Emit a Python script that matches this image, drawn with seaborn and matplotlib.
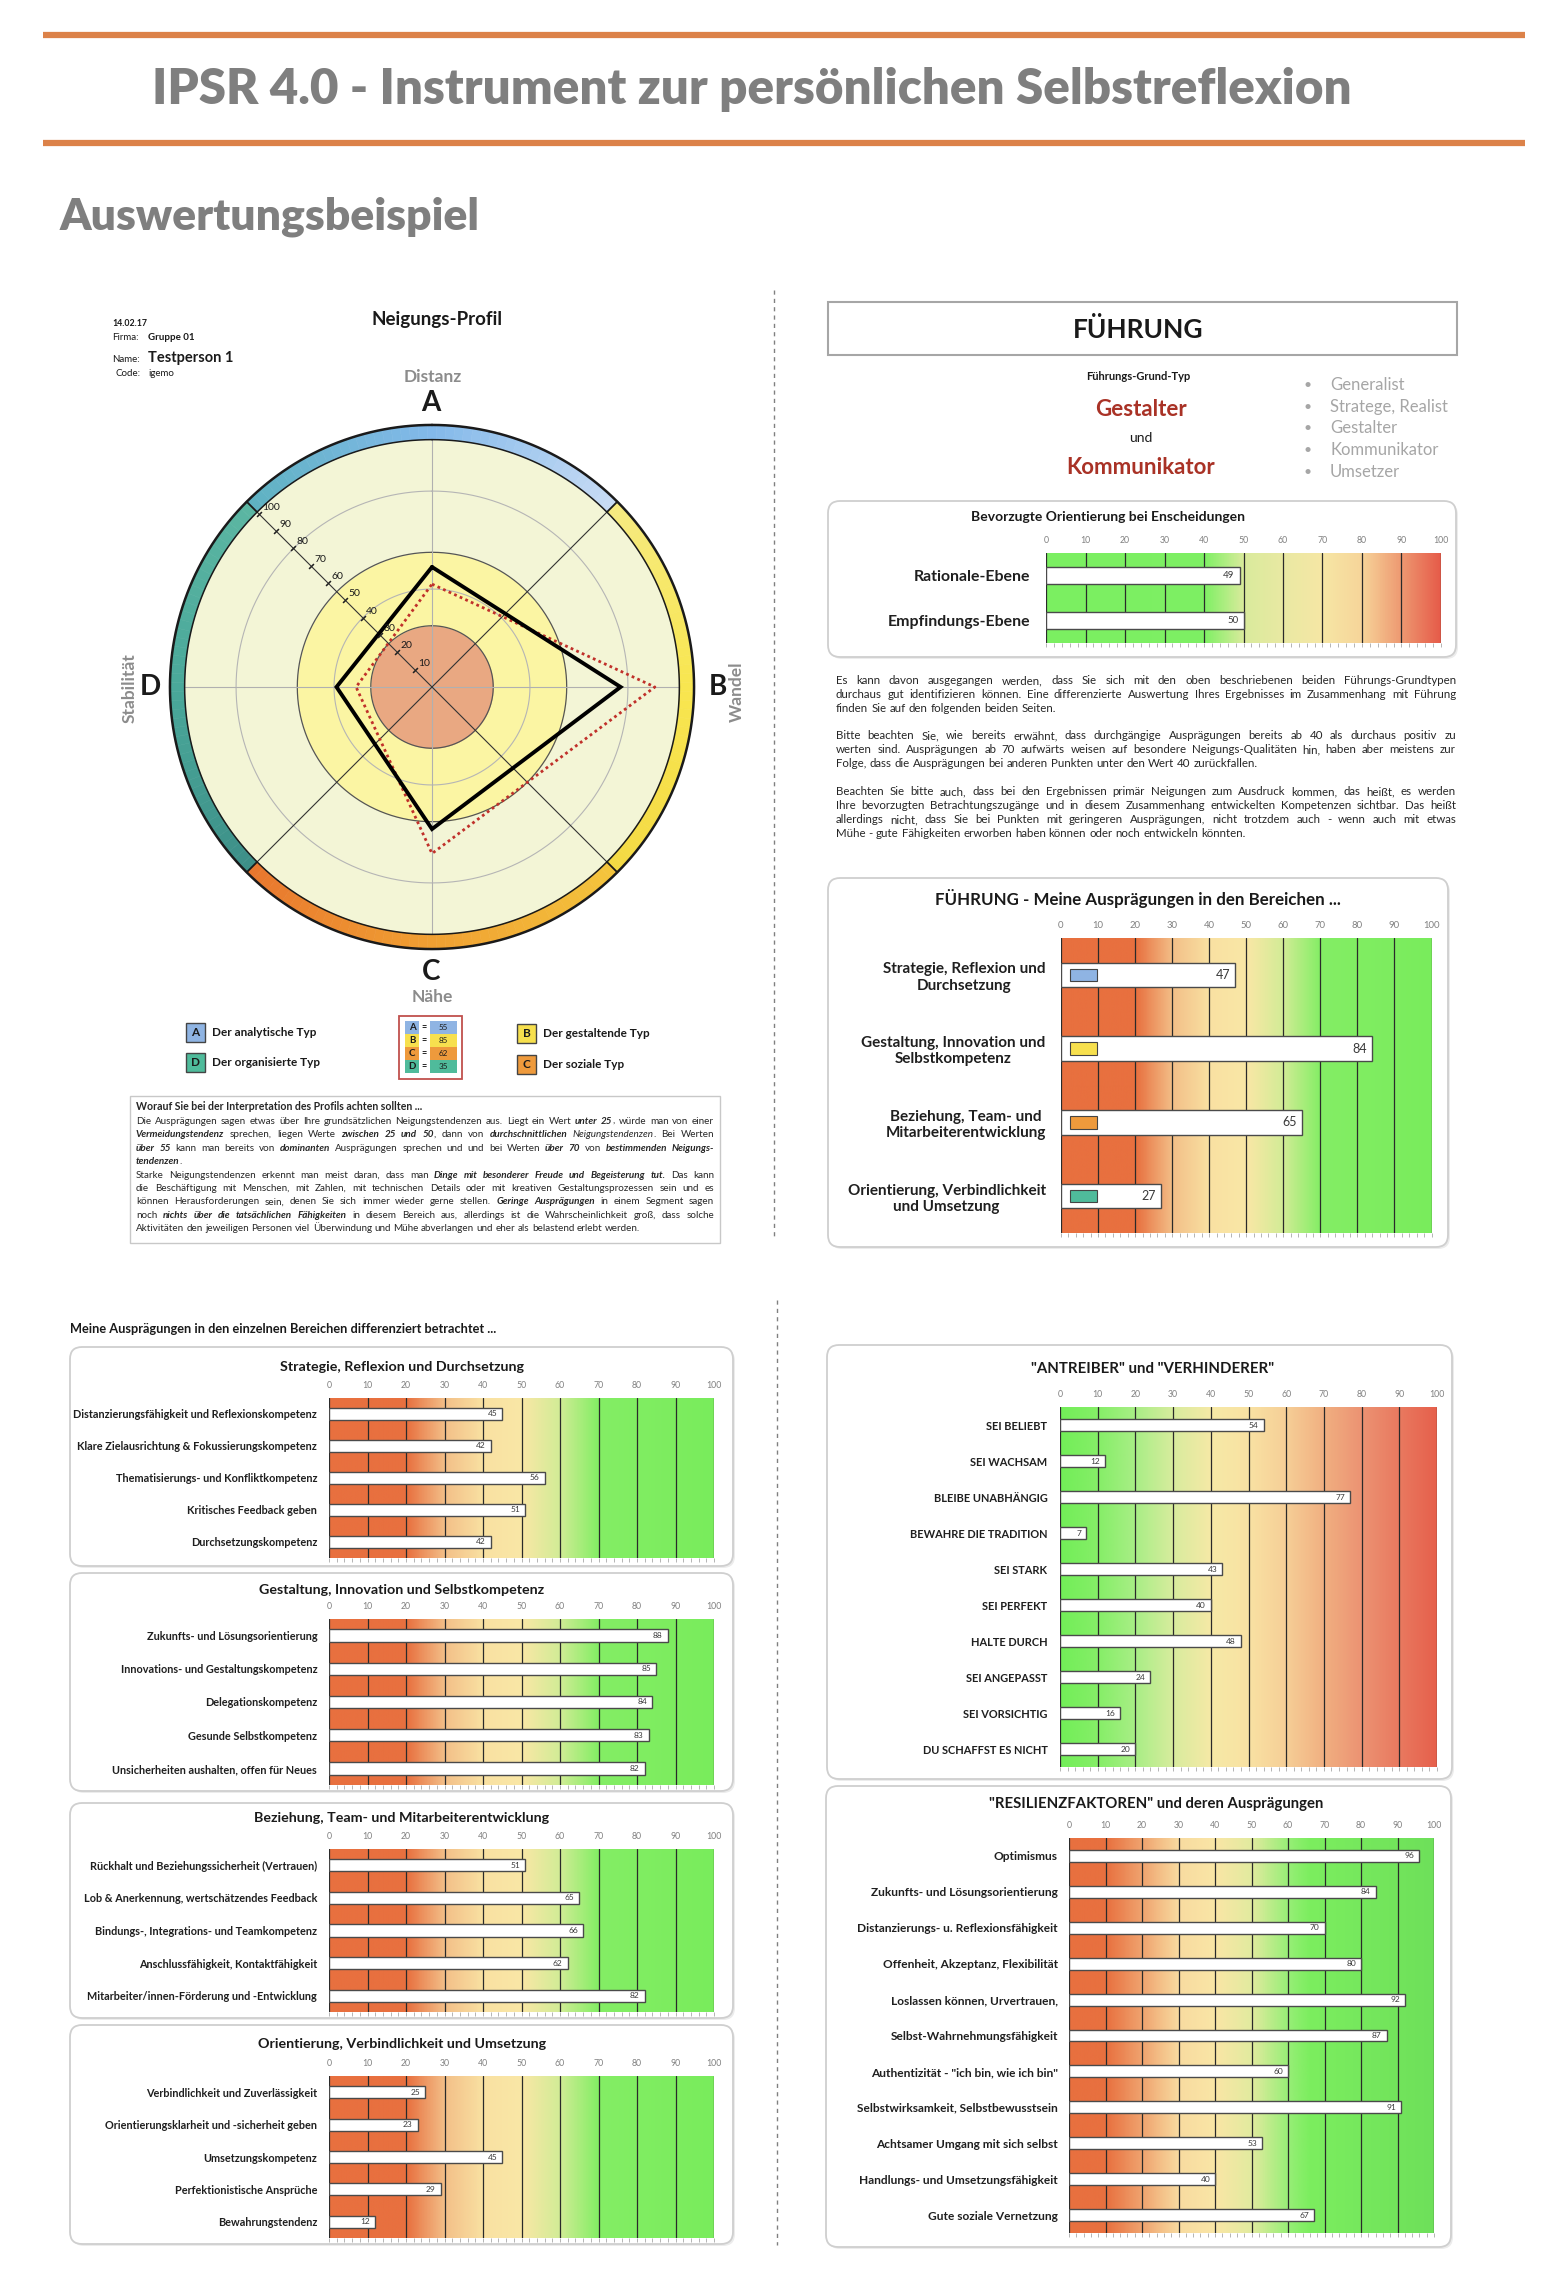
import numpy as np
import matplotlib
matplotlib.use("Agg")
import matplotlib.pyplot as plt
import seaborn as sns
from matplotlib.colors import LinearSegmentedColormap
from matplotlib.patches import FancyBboxPatch, Rectangle
from matplotlib.ticker import MultipleLocator

sns.set_style("white")
plt.rcParams["font.family"] = ["Lato", "DejaVu Sans"]

W, H = 1562, 2282

# ---- data ----
profile_axes = ["A", "B", "C", "D"]
profile_solid = [49, 77, 58, 39]
profile_dotted = [42, 91, 68, 31]
profile_scores = [55, 85, 62, 35]
diag_ticks = [10, 20, 30, 40, 50, 60, 70, 80, 90, 100]

fuehrung_types = ["Generalist", "Stratege, Realist", "Gestalter", "Kommunikator", "Umsetzer"]

orient_labels = ["Rationale-Ebene", "Empfindungs-Ebene"]
orient_values = [49, 50]

bereich_labels = ["Strategie, Reflexion und\nDurchsetzung",
                  "Gestaltung, Innovation und\nSelbstkompetenz",
                  "Beziehung, Team- und\nMitarbeiterentwicklung",
                  "Orientierung, Verbindlichkeit\nund Umsetzung"]
bereich_values = [47, 84, 65, 27]

strategie_labels = ["Distanzierungsfähigkeit und Reflexionskompetenz",
                    "Klare Zielausrichtung & Fokussierungskompetenz",
                    "Thematisierungs- und Konfliktkompetenz",
                    "Kritisches Feedback geben",
                    "Durchsetzungskompetenz"]
strategie_values = [45, 42, 56, 51, 42]

gestaltung_labels = ["Zukunfts- und Lösungsorientierung",
                     "Innovations- und Gestaltungskompetenz",
                     "Delegationskompetenz",
                     "Gesunde Selbstkompetenz",
                     "Unsicherheiten aushalten, offen für Neues"]
gestaltung_values = [88, 85, 84, 83, 82]

beziehung_labels = ["Rückhalt und Beziehungssicherheit (Vertrauen)",
                    "Lob & Anerkennung, wertschätzendes Feedback",
                    "Bindungs-, Integrations- und Teamkompetenz",
                    "Anschlussfähigkeit, Kontaktfähigkeit",
                    "Mitarbeiter/innen-Förderung und -Entwicklung"]
beziehung_values = [51, 65, 66, 62, 82]

orientierung_labels = ["Verbindlichkeit und Zuverlässigkeit",
                       "Orientierungsklarheit und -sicherheit geben",
                       "Umsetzungskompetenz",
                       "Perfektionistische Ansprüche",
                       "Bewahrungstendenz"]
orientierung_values = [25, 23, 45, 29, 12]

antreiber_labels = ["SEI BELIEBT", "SEI WACHSAM", "BLEIBE UNABHÄNGIG", "BEWAHRE DIE TRADITION",
                    "SEI STARK", "SEI PERFEKT", "HALTE DURCH", "SEI ANGEPASST",
                    "SEI VORSICHTIG", "DU SCHAFFST ES NICHT"]
antreiber_values = [54, 12, 77, 7, 43, 40, 48, 24, 16, 20]

resilienz_labels = ["Optimismus", "Zukunfts- und Lösungsorientierung",
                    "Distanzierungs- u. Reflexionsfähigkeit", "Offenheit, Akzeptanz, Flexibilität",
                    "Loslassen können, Urvertrauen,", "Selbst-Wahrnehmungsfähigkeit",
                    'Authentizität - "ich bin, wie ich bin"', "Selbstwirksamkeit, Selbstbewusstsein",
                    "Achtsamer Umgang mit sich selbst", "Handlungs- und Umsetzungsfähigkeit",
                    "Gute soziale Vernetzung"]
resilienz_values = [96, 84, 70, 80, 92, 87, 60, 91, 53, 40, 67]

# ---- colours ----
type_colors = {"A": "#8fb4e3", "B": "#f7e04e", "C": "#ee9a3c", "D": "#4fbb9b"}
high_good = [(0, "#e8703f"), (0.2, "#e8703f"), (0.3, "#f3bf88"), (0.4, "#f9e1a2"),
             (0.5, "#fae7a6"), (0.6, "#d2ec96"), (0.7, "#84ee65"), (1, "#79ec5c")]
bev_stops = [(0, "#7bef61"), (0.4, "#7ef064"), (0.5, "#d9eb9c"), (0.6, "#e9e9a3"),
             (0.7, "#f6e7a5"), (0.8, "#f7d59a"), (0.9, "#ee9a72"), (1, "#e65c4a")]
antreiber_stops = [(0, "#72ee58"), (0.1, "#86ee68"), (0.2, "#a9ee86"), (0.3, "#d8ec9e"),
                   (0.4, "#f6e9a6"), (0.5, "#f9e2a3"), (0.6, "#f6cf97"), (0.7, "#f1b081"),
                   (0.8, "#ec9373"), (0.9, "#e97a60"), (1, "#e6604c")]
resilienz_stops = [(0, "#e8703f"), (0.1, "#e8703f"), (0.2, "#f0a46f"), (0.3, "#f8dba0"),
                   (0.4, "#fae6a6"), (0.5, "#e2eb9f"), (0.6, "#98ee77"), (0.66, "#7cee5f"),
                   (1, "#6ee05a")]

fig = plt.figure(figsize=(W / 100, H / 100), dpi=100)
bg = fig.add_axes([0, 0, 1, 1])
bg.set_xlim(0, W)
bg.set_ylim(H, 0)
bg.axis("off")
rend = fig.canvas.get_renderer()


def px_axes(x0, y0, x1, y1, **kw):
    return fig.add_axes([x0 / W, 1 - y1 / H, (x1 - x0) / W, (y1 - y0) / H], **kw)


def txt(x, y, s, size, **kw):
    kw.setdefault("ha", "center")
    kw.setdefault("va", "center")
    kw.setdefault("color", "#1a1a1a")
    return bg.text(x, y, s, fontsize=size, **kw)


def space_width(size):
    a = bg.text(0, 0, "n n", fontsize=size)
    b = bg.text(0, 0, "nn", fontsize=size)
    w = a.get_window_extent(rend).width - b.get_window_extent(rend).width
    a.remove()
    b.remove()
    return w


def rich_line(x0, x1, y, runs, size, justify=True, color="#262626"):
    # words are placed on a common baseline, justified to [x0, x1]
    words = [[]]
    for s, code in runs:
        for k, part in enumerate(s.split(" ")):
            if k > 0:
                words.append([])
            if part:
                words[-1].append((part, code))
    words = [w for w in words if w]
    base = y + 0.36 * size * 100 / 72
    items = []
    for w in words:
        arts = []
        for part, code in w:
            t = bg.text(x0, base, part, fontsize=size, color=color, va="baseline", ha="left",
                        fontweight="bold" if "b" in code else "normal",
                        fontstyle="italic" if "i" in code else "normal")
            arts.append((t, t.get_window_extent(rend).width))
        items.append(arts)
    widths = [sum(a[1] for a in arts) for arts in items]
    sp = space_width(size)
    if justify and len(items) > 1:
        gap = max((x1 - x0 - sum(widths)) / (len(items) - 1), 0.6 * sp)
    else:
        gap = sp
    x = x0
    for arts in items:
        for t, tw in arts:
            t.set_x(x)
            x += tw
        x += gap


def card(x0, y0, x1, y1):
    bg.add_patch(FancyBboxPatch((x0 + 2, y0 + 2), x1 - x0, y1 - y0,
                                boxstyle="round,pad=0,rounding_size=12",
                                fc="#ececec", ec="none"))
    bg.add_patch(FancyBboxPatch((x0, y0), x1 - x0, y1 - y0,
                                boxstyle="round,pad=0,rounding_size=12",
                                fc="white", ec="#cfcfcf", lw=1.3))


def bar_panel(rect, labels, values, stops, lab_size, val_size, bar_h=0.37,
              tick_size=6.3, pad=8.5, keys=None):
    ax = px_axes(*rect)
    sns.barplot(x=values, y=labels, orient="h", color="white", saturation=1,
                edgecolor="#4a4a4a", linewidth=1, width=bar_h, ax=ax, zorder=3)
    n = len(labels)
    cmap = LinearSegmentedColormap.from_list("band", stops)
    ax.imshow(np.linspace(0, 1, 500)[None, :], cmap=cmap, aspect="auto",
              extent=(0, 100, n - 0.5, -0.5), zorder=0)
    ax.set_xlim(0, 100)
    ax.set_ylim(n - 0.5, -0.5)
    ax.set_xticks(range(0, 101, 10))
    ax.xaxis.set_minor_locator(MultipleLocator(2))
    ax.set_axisbelow(False)
    ax.grid(axis="x", which="major", color="#2a2a2a", lw=0.9)
    ax.grid(axis="y", visible=False)
    ax.tick_params(axis="x", which="both", top=False, bottom=True, labeltop=True,
                   labelbottom=False, length=3, width=0.6, color="#a8a8a8",
                   labelsize=tick_size, labelcolor="#808080", pad=3)
    ax.tick_params(axis="y", length=0, pad=pad, labelsize=lab_size)
    for t in ax.get_yticklabels():
        t.set_fontweight("bold")
        t.set_color("#1f1f1f")
        t.set_multialignment("center")
    for s in ax.spines.values():
        s.set_visible(False)
    ax.set_xlabel("")
    ax.set_ylabel("")
    for i, v in enumerate(values):
        ax.text(v - 1.3, i, str(v), ha="right", va="center", fontsize=val_size,
                color="#3a3a3a", zorder=5)
    if keys is not None:
        for i, k in enumerate(keys):
            ax.add_patch(Rectangle((2.5, i - 0.085), 7.2, 0.17, fc=type_colors[k],
                                   ec="#444444", lw=0.8, zorder=5))
    return ax


# ---- page header ----
for yy in (35, 143):
    bg.plot([43, 1525], [yy, yy], color="#dc8249", lw=4.5, solid_capstyle="butt")
txt(752, 90, "IPSR 4.0 - Instrument zur persönlichen Selbstreflexion", 35.5,
    fontweight="heavy", color="#7f7f7f")
txt(60, 217, "Auswertungsbeispiel", 32, ha="left", fontweight="heavy", color="#7f7f7f")

bg.plot([774, 774], [290, 1240], color="#808080", lw=1, ls=(0, (3, 3)))
bg.plot([777, 777], [1300, 2245], color="#808080", lw=1, ls=(0, (3, 3)))

# ---- Neigungs-Profil (radar) ----
txt(112, 323, "14.02.17", 6.3, ha="left", fontweight="bold")
txt(112, 337, "Firma:", 7, ha="left")
txt(148, 337, "Gruppe 01", 7, ha="left", fontweight="bold")
txt(112, 359, "Name:", 7, ha="left")
txt(148, 358, "Testperson 1", 10.5, ha="left", fontweight="bold")
txt(141, 373, "Code:", 7, ha="right")
txt(148, 373, "igemo", 7, ha="left")
txt(437, 320, "Neigungs-Profil", 13.5, fontweight="bold")

cx, cy, R = 432, 687, 264.5
rad = px_axes(cx - R, cy - R, cx + R, cy + R, projection="polar")
rad.set_theta_zero_location("N")
rad.set_theta_direction(-1)
rad.axis("off")
th = np.linspace(0, 2 * np.pi, 721)
rad.fill_between(th, 0, 101, color="#f3f5d6", lw=0)
rad.fill_between(th, 0, 55, color="#fbf5a3", lw=0)
rad.fill_between(th, 0, 25, color="#e9a882", lw=0)
for r_, c_, w_ in [(40, "#b5b5b5", 0.8), (80, "#b5b5b5", 0.8), (25, "#555555", 0.9), (55, "#555555", 0.9)]:
    rad.plot(th, np.full_like(th, r_), color=c_, lw=w_)
for a in [0, np.pi / 2, np.pi, 3 * np.pi / 2]:
    rad.plot([a, a], [0, 101], color="#b0b0b0", lw=0.8)
for a in [np.pi / 4, 3 * np.pi / 4, 5 * np.pi / 4, 7 * np.pi / 4]:
    rad.plot([a, a], [0, 101], color="#333333", lw=0.8)

ring = [(-np.pi / 4, ["#5fb2c2", "#83b9ea", "#c7dbf4"]),
        (np.pi / 4, ["#f6ea80", "#f8e650", "#f4da44"]),
        (3 * np.pi / 4, ["#f4c43c", "#f0a032", "#e8772e"]),
        (5 * np.pi / 4, ["#3d8f88", "#4aa89a", "#5bb6a2"])]
nseg = 45
dth = (np.pi / 2) / nseg
for start, cols in ring:
    cm = LinearSegmentedColormap.from_list("ring", cols)
    thetas = start + (np.arange(nseg) + 0.5) * dth
    cc = [cm(t) for t in np.linspace(0, 1, nseg)]
    rad.bar(thetas, 6, width=dth, bottom=101, color=cc, edgecolor=cc, linewidth=0.4)
rad.plot(th, np.full_like(th, 101), color="#1a1a1a", lw=1.1)
rad.plot(th, np.full_like(th, 107), color="#1a1a1a", lw=1.8)
for a in [np.pi / 4, 3 * np.pi / 4, 5 * np.pi / 4, 7 * np.pi / 4]:
    rad.plot([a, a], [101, 107], color="#1a1a1a", lw=1.3)

angles = [0, np.pi / 2, np.pi, 3 * np.pi / 2]
rad.plot(angles + [angles[0]], profile_dotted + [profile_dotted[0]], color="#c0302a",
         lw=2, ls=(0, (1, 1.2)))
rad.plot(angles + [angles[0]], profile_solid + [profile_solid[0]], color="black", lw=2.8,
         solid_joinstyle="miter")
diag = 7 * np.pi / 4
rad.plot([diag] * len(diag_ticks), diag_ticks, ls="none", marker=(2, 2, -45), ms=5,
         mec="#222222", mew=0.8)
for v in diag_ticks:
    rad.annotate(str(v), xy=(diag, v), xytext=(2.5, 1.5), textcoords="offset points",
                 fontsize=7.5, ha="left", va="bottom", color="#1a1a1a")
rad.set_ylim(0, 108)

txt(433, 377, "Distanz", 12.5, fontweight="bold", color="#8c8c8c")
txt(431, 403, "A", 20, fontweight="bold")
txt(718, 687, "B", 20, fontweight="bold")
txt(737, 692, "Wandel", 12.5, fontweight="bold", color="#8c8c8c", rotation=90)
txt(431, 972, "C", 20, fontweight="bold")
txt(432, 997, "Nähe", 12.5, fontweight="bold", color="#8c8c8c")
txt(150, 687, "D", 20, fontweight="bold")
txt(130, 688, "Stabilität", 12.5, fontweight="bold", color="#8c8c8c", rotation=90)

legend_pos = {"A": (186, 1023, "Der analytische Typ"), "D": (186, 1053, "Der organisierte Typ"),
              "B": (517, 1024, "Der gestaltende Typ"), "C": (517, 1055, "Der soziale Typ")}
for k, (lx, ly, lt) in legend_pos.items():
    bg.add_patch(Rectangle((lx, ly), 19, 19, fc=type_colors[k], ec="#444444", lw=1))
    txt(lx + 9.5, ly + 9.5, k, 8.5, fontweight="bold")
    txt(lx + 26, ly + 9.5, lt, 8.5, ha="left", fontweight="bold")

bg.add_patch(Rectangle((399, 1016), 63, 63, fc="white", ec="#c0504d", lw=1.3))
for i, (k, v) in enumerate(zip(profile_axes, profile_scores)):
    y0 = 1021 + i * 13
    bg.add_patch(Rectangle((405, y0), 14, 13, fc=type_colors[k], ec="none"))
    bg.add_patch(Rectangle((430, y0), 27, 13, fc=type_colors[k], ec="none"))
    txt(412, y0 + 6.5, k, 7, fontweight="bold")
    txt(424.5, y0 + 6.5, "=", 6.5, fontweight="bold")
    txt(443.5, y0 + 6.5, str(v), 5.8, zorder=6)

bg.add_patch(Rectangle((129.5, 1096), 590.5, 147, fc="white", ec="#c8c8c8", lw=1))
tx0, tx1 = 136, 714
txt(tx0, 1107, "Worauf Sie bei der Interpretation des Profils achten sollten ...", 7.6,
    ha="left", fontweight="bold", color="#262626")
box_lines = [
    ([("Die Ausprägungen sagen etwas über Ihre grundsätzlichen Neigungstendenzen aus. Liegt ein Wert ", "n"),
      ("unter 25", "bi"), (", würde man von einer", "n")], True),
    ([("Vermeidungstendenz", "bi"), (" sprechen, liegen Werte ", "n"), ("zwischen 25 und 50", "bi"),
      (", dann von ", "n"), ("durchschnittlichen", "bi"), (" Neigungstendenzen", "i"), (". Bei Werten", "n")], True),
    ([("über 55", "bi"), (" kann man bereits von ", "n"), ("dominanten", "bi"),
      (" Ausprägungen sprechen und und bei Werten ", "n"), ("über 70", "bi"), (" von ", "n"),
      ("bestimmenden Neigungs-", "bi")], True),
    ([("tendenzen", "bi"), (".", "n")], False),
    ([("Starke Neigungstendenzen erkennt man meist daran, dass man ", "n"),
      ("Dinge mit besonderer Freude und Begeisterung tut.", "bi"), (" Das kann", "n")], True),
    ([("die Beschäftigung mit Menschen, mit Zahlen, mit technischen Details oder mit kreativen Gestaltungsprozessen sein und es", "n")], True),
    ([("können Herausforderungen sein, denen Sie sich immer wieder gerne stellen. ", "n"),
      ("Geringe Ausprägungen", "bi"), (" in einem Segment sagen", "n")], True),
    ([("noch ", "n"), ("nichts über die tatsächlichen Fähigkeiten", "bi"),
      (" in diesem Bereich aus, allerdings ist die Wahrscheinlichkeit groß, dass solche", "n")], True),
    ([("Aktivitäten den jeweiligen Personen viel Überwindung und Mühe abverlangen und eher als belastend erlebt werden.", "n")], False),
]
for i, (runs, just) in enumerate(box_lines):
    rich_line(tx0, tx1, 1120.5 + i * 13.4, runs, 7.15, justify=just)

# ---- FÜHRUNG header (right) ----
bg.add_patch(Rectangle((828, 302), 629, 53, fc="white", ec="#a6a6a6", lw=1.5))
txt(1138, 329, "FÜHRUNG", 19, fontweight="bold")
txt(1138, 376, "Führungs-Grund-Typ", 8, fontweight="bold")
txt(1141, 409, "Gestalter", 16, fontweight="bold", color="#a93226")
txt(1141, 438, "und", 10)
txt(1141, 468, "Kommunikator", 16, fontweight="bold", color="#a93226")
for i, s in enumerate(fuehrung_types):
    yy = 385 + i * 21.7
    txt(1308, yy, "•", 10, color="#a6a6a6")
    txt(1330, yy, s, 12, ha="left", color="#a6a6a6")

card(828, 501, 1456, 657)
txt(1108, 517, "Bevorzugte Orientierung bei Enscheidungen", 10, fontweight="bold")
bar_panel((1046, 553, 1441, 643), orient_labels, orient_values, bev_stops,
          lab_size=11.4, val_size=7, bar_h=0.37, tick_size=6.3, pad=11.5)

para = [
    ["Es kann davon ausgegangen werden, dass Sie sich mit den oben beschriebenen beiden Führungs-Grundtypen",
     "durchaus gut identifizieren können. Eine differenzierte Auswertung Ihres Ergebnisses im Zusammenhang mit Führung",
     "finden Sie auf den folgenden beiden Seiten."],
    ["Bitte beachten Sie, wie bereits erwähnt, dass durchgängige Ausprägungen bereits ab 40 als durchaus positiv zu",
     "werten sind. Ausprägungen ab 70 aufwärts weisen auf besondere Neigungs-Qualitäten hin, haben aber meistens zur",
     "Folge, dass die Ausprägungen bei anderen Punkten unter den Wert 40 zurückfallen."],
    ["Beachten Sie bitte auch, dass bei den Ergebnissen primär Neigungen zum Ausdruck kommen, das heißt, es werden",
     "Ihre bevorzugten Betrachtungszugänge und in diesem Zusammenhang entwickelten Kompetenzen sichtbar. Das heißt",
     "allerdings nicht, dass Sie bei Punkten mit geringeren Ausprägungen, nicht trotzdem auch - wenn auch mit etwas",
     "Mühe - gute Fähigkeiten erworben haben können oder noch entwickeln könnten."],
]
para_y = [680, 735, 791]
for p, y0 in zip(para, para_y):
    for j, line in enumerate(p):
        rich_line(836, 1456, y0 + j * 14, [(line, "n")], 8.3, justify=(j < len(p) - 1))

card(828, 878, 1448, 1247)
txt(1138, 899, "FÜHRUNG - Meine Ausprägungen in den Bereichen ...", 12.2, fontweight="bold")
bar_panel((1061, 938, 1431.5, 1233), bereich_labels, bereich_values, high_good,
          lab_size=11, val_size=9, bar_h=0.33, tick_size=6.8, pad=11, keys=["A", "B", "C", "D"])

# ---- detailed left column ----
txt(70, 1329, "Meine Ausprägungen in den einzelnen Bereichen differenziert betrachtet ...", 9.2,
    ha="left", fontweight="bold")
left_panels = [
    ((70, 1347, 733, 1566), 1367, "Strategie, Reflexion und Durchsetzung", (329, 1398, 714, 1558),
     strategie_labels, strategie_values),
    ((70, 1573, 733, 1791), 1590, "Gestaltung, Innovation und Selbstkompetenz", (329, 1619, 714, 1785),
     gestaltung_labels, gestaltung_values),
    ((70, 1803, 733, 2018), 1818, "Beziehung, Team- und Mitarbeiterentwicklung", (329, 1849, 714, 2012),
     beziehung_labels, beziehung_values),
    ((70, 2025, 733, 2244), 2044, "Orientierung, Verbindlichkeit und Umsetzung", (329, 2076, 714, 2238),
     orientierung_labels, orientierung_values),
]
for box, ty, title, rect, labs, vals in left_panels:
    card(*box)
    txt(402, ty, title, 10.3, fontweight="bold")
    bar_panel(rect, labs, vals, high_good, lab_size=7.8, val_size=6, bar_h=0.37,
              tick_size=6.3, pad=8.5)

# ---- right column: Antreiber & Resilienz ----
card(827, 1345, 1452, 1779)
txt(1153, 1369, '"ANTREIBER" und "VERHINDERER"', 10.8, fontweight="bold")
bar_panel((1060, 1407, 1437, 1767), antreiber_labels, antreiber_values, antreiber_stops,
          lab_size=7.9, val_size=6, bar_h=0.33, tick_size=6.3, pad=9)

card(826, 1786, 1451, 2247)
txt(1156, 1804, '"RESILIENZFAKTOREN" und deren Ausprägungen', 10.7, fontweight="bold")
bar_panel((1069, 1838, 1434, 2233), resilienz_labels, resilienz_values, resilienz_stops,
          lab_size=8.6, val_size=6, bar_h=0.33, tick_size=6.3, pad=8)

fig.savefig("out.png", dpi=100)
